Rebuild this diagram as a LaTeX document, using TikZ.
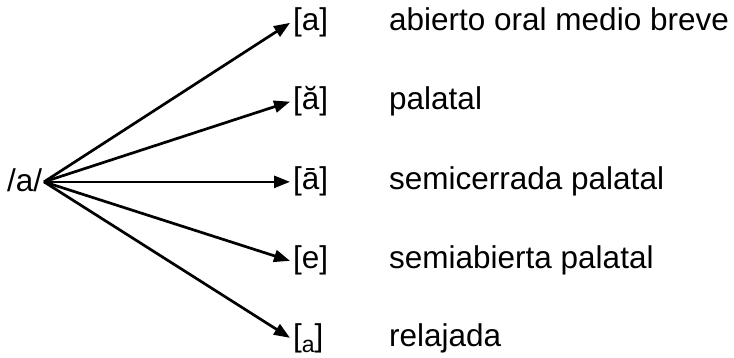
\documentclass[tikz,border=0pt]{standalone}
\usepackage{fontspec}
\setmainfont{Liberation Sans}
\usetikzlibrary{arrows.meta}
\begin{document}
\begin{tikzpicture}[x=1pt,y=-1pt,
  txt/.style={font=\fontsize{31.5}{36}\selectfont, inner sep=0pt, anchor=base west},
  phone/.style={txt, inner xsep=3pt},
  branch/.style={line width=2.7pt, -{Triangle[length=16pt,width=12pt]}}]
\useasboundingbox (0,0) rectangle (734,358);
% source phoneme
\node[txt] (src) at (7,192) {/a/};
% allophones
\node[phone] (p1) at (290,31) {[a]};
\node[phone] (p2) at (290,110) {[ă]};
\node[phone] (p3) at (290,190) {[ā]};
\node[phone] (p4) at (290,269) {[e]};
\node[phone] (p5) at (290,346) {[\raisebox{-6pt}{\fontsize{23}{23}\selectfont a}]};
% descriptions
\node[txt] (d1) at (389,31) {abierto oral medio breve};
\node[txt] (d2) at (389,110) {palatal};
\node[txt] (d3) at (389,190) {semicerrada palatal};
\node[txt] (d4) at (389,269) {semiabierta palatal};
\node[txt] (d5) at (389,346) {relajada};
% branches fan out from the right of the phoneme
\coordinate (o) at (44,0 |- p3.west);
\foreach \k in {1,...,5} \draw[branch] (o) -- (p\k.west);
\end{tikzpicture}
\end{document}
